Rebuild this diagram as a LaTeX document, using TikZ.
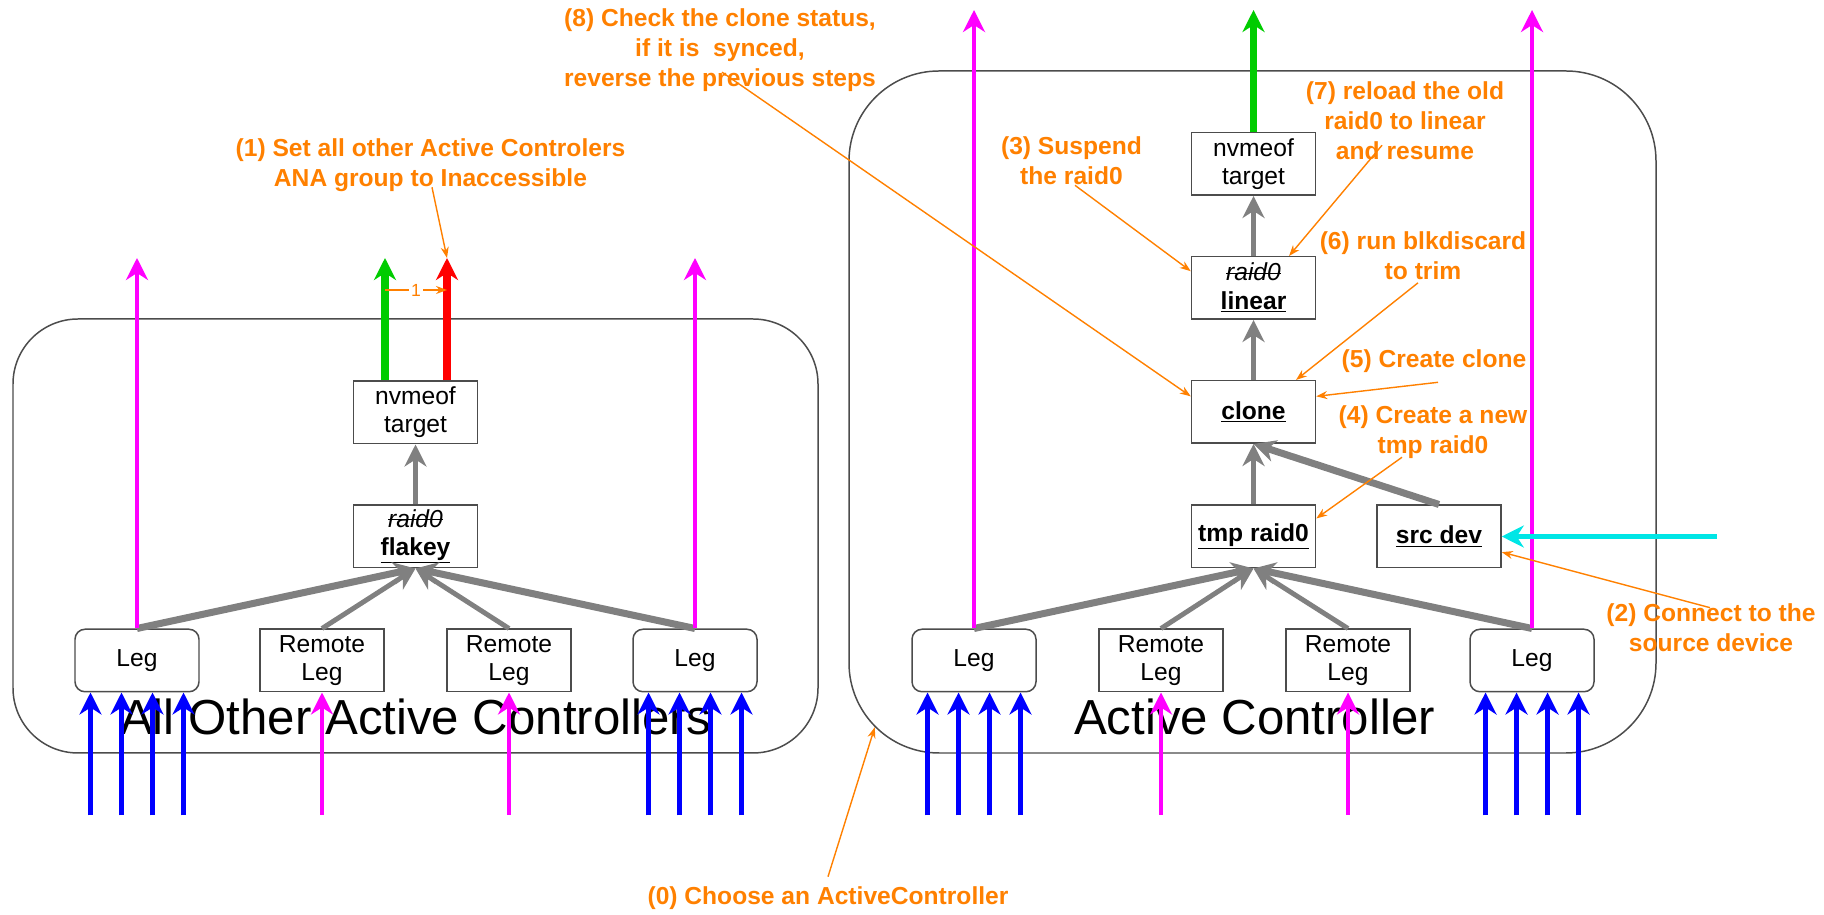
\documentclass[tikz,border=0pt]{standalone}
\usepackage{fontspec}
\setmainfont{Liberation Sans}
\usepackage{tikz}
\usetikzlibrary{arrows.meta,positioning,calc}
\definecolor{noteorange}{RGB}{255,128,0}
\definecolor{pathmagenta}{RGB}{255,0,255}
\definecolor{pathblue}{RGB}{0,0,255}
\definecolor{pathgreen}{RGB}{0,204,0}
\definecolor{pathred}{RGB}{255,0,0}
\definecolor{pathcyan}{RGB}{0,230,230}
\definecolor{stackgray}{RGB}{128,128,128}
\newcommand{\boxfont}{\fontsize{14}{16}\selectfont}
\newcommand{\notefont}{\fontsize{14}{17}\selectfont\bfseries}
\newcommand{\titlefont}{\fontsize{28}{34}\selectfont}
\newsavebox{\struckbox}
\newcommand{\struck}[1]{\sbox\struckbox{#1}\rlap{\rule[0.27em]{\wd\struckbox}{0.06em}}\usebox\struckbox}

\begin{document}
\begin{tikzpicture}[
    panel/.style={rectangle, draw=black!70, line width=0.85pt},
    leg/.style={rectangle, draw=black!70, fill=white, line width=0.85pt, rounded corners=0.2cm, minimum width=2.48cm, minimum height=1.25cm, inner sep=0pt, align=center, font=\boxfont},
    dev/.style={leg, sharp corners},
    note/.style={text=noteorange, align=center, font=\notefont, inner sep=0pt},
    pointer/.style={->, >={Stealth[length=0.22cm,width=0.16cm]}, draw=noteorange, line width=0.8pt},
    flow/.style={->, >={Stealth[length=0.44cm,width=0.44cm,inset=0.14cm]}, line width=2.8pt},
    stack/.style={flow, stackgray},
    bulk/.style={stack, line width=4pt}]

  \useasboundingbox (0,0) rectangle (36.48,18.30);

  % controller panels
  \node[panel, rounded corners=1.3cm, minimum width=16.10cm, minimum height=8.68cm] (others) at (8.31,7.58) {};
  \node[panel, rounded corners=1.8cm, minimum width=16.14cm, minimum height=13.64cm] (active) at (25.05,10.06) {};
  \node[font=\titlefont, anchor=base] (othersname) at (8.31,3.6) {All Other Active Controllers};
  \node[font=\titlefont, anchor=base] (activename) at (25.09,3.6) {Active Controller};

  % other controllers
  \node[leg] (legA) at (2.74,5.09) {Leg};
  \node[dev] (remA) at (6.44,5.09) {Remote\\Leg};
  \node[dev] (remB) at (10.18,5.09) {Remote\\Leg};
  \node[leg] (legB) at (13.90,5.09) {Leg};
  \node[dev] (flakey) at (8.31,7.57) {\textit{\struck{raid0}}\\\textbf{\underline{flakey}}};
  \node[dev] (nvmeL) at (8.31,10.05) {nvmeof\\target};

  % active controller
  \node[leg] (legC) at (19.48,5.09) {Leg};
  \node[dev] (remC) at (23.22,5.09) {Remote\\Leg};
  \node[dev] (remD) at (26.96,5.09) {Remote\\Leg};
  \node[leg] (legD) at (30.64,5.09) {Leg};
  \node[dev] (tmpraid) at (25.07,7.57) {\textbf{\underline{tmp raid0}}};
  \node[dev] (srcdev) at (28.78,7.57) {\textbf{\underline{src dev}}};
  \node[dev] (clone) at (25.07,10.06) {\textbf{\underline{clone}}};
  \node[dev] (linear) at (25.07,12.54) {\textit{\struck{raid0}}\\\textbf{\underline{linear}}};
  \node[dev] (nvmeR) at (25.07,15.02) {nvmeof\\target};

  \coordinate (topL) at (0,13.14);
  \coordinate (topR) at (0,18.10);
  \coordinate (floor) at (0,2.0);
  \coordinate (greentipL) at (7.70,13.14);
  \coordinate (redtipL) at (8.94,13.14);
  \coordinate (markL) at (0,12.5);
  \coordinate (srcfeed) at (34.34,7.57);

  % incoming paths
  \foreach \leg in {legA,legB,legC,legD}
    \foreach \dx in {-0.93,-0.31,0.31,0.93}
      \draw[flow, pathblue] ($(\leg.south)+(\dx,-2.46)$) -- ($(\leg.south)+(\dx,0)$);
  \foreach \rem in {remA,remB,remC,remD}
    \draw[flow, pathmagenta] (\rem.south |- floor) -- (\rem.south);

  % device stacks
  \foreach \src in {remA,remB} \draw[stack] (\src.north) -- (flakey.south);
  \foreach \src in {legA,legB} \draw[bulk] (\src.north) -- (flakey.south);
  \draw[stack] (flakey) -- (nvmeL);
  \foreach \src in {remC,remD} \draw[stack] (\src.north) -- (tmpraid.south);
  \foreach \src in {legC,legD} \draw[bulk] (\src.north) -- (tmpraid.south);
  \draw[stack] (tmpraid) -- (clone);
  \draw[bulk] (srcdev.north) -- (clone.south);
  \draw[stack] (clone) -- (linear);
  \draw[stack] (linear) -- (nvmeR);

  % outgoing paths
  \draw[flow, pathmagenta] (legA.north) -- (legA.north |- topL);
  \draw[flow, pathmagenta] (legB.north) -- (legB.north |- topL);
  \draw[flow, pathgreen, line width=4pt] (nvmeL.north -| greentipL) -- (greentipL);
  \draw[flow, pathred, line width=4pt] (nvmeL.north -| redtipL) -- (redtipL);
  \draw[pointer] (greentipL |- markL) -- node[fill=white, inner sep=1pt, text=noteorange, font=\fontsize{10}{12}\selectfont] {1} (redtipL |- markL);
  \draw[flow, pathmagenta] (legC.north) -- (legC.north |- topR);
  \draw[flow, pathmagenta] (legD.north) -- (legD.north |- topR);
  \draw[flow, pathgreen, line width=4pt] (nvmeR.north) -- (nvmeR.north |- topR);
  \draw[flow, pathcyan, line width=3.4pt] (srcfeed) -- (srcdev.east);

  % steps
  \node[note] (stepA) at (8.61,14.99) {(1) Set all other Active Controlers\\ANA group to Inaccessible};
  \node[note] (stepB) at (34.22,5.74) {(2) Connect to the\\source device};
  \node[note] (stepC) at (21.43,15.08) {(3) Suspend\\the raid0};
  \node[note] (stepD) at (28.66,9.65) {(4) Create a new\\tmp raid0};
  \node[note] (stepE) at (28.68,11.07) {(5) Create clone};
  \node[note] (stepF) at (28.46,13.19) {(6) run blkdiscard\\to trim};
  \node[note] (stepG) at (28.10,15.88) {(7) reload the old\\raid0 to linear\\and resume};
  \node[note] (stepH) at (14.40,17.29) {(8) Check the clone status,\\if it is\ \ synced,\\reverse the previous steps};
  \node[note] (stepZ) at (16.56,0.33) {(0) Choose an ActiveController};

  \draw[pointer] ($(stepA.south)+(0.03,0.1)$) -- (redtipL);
  \draw[pointer] ($(stepB.north)+(-0.02,-0.08)$) -- (srcdev.-14);
  \draw[pointer] ($(stepC.south)+(0.07,0)$) -- (linear.165);
  \draw[pointer] ($(stepD.south)+(-0.62,0.04)$) -- (tmpraid.16);
  \draw[pointer] ($(stepE.south)+(0.08,-0.18)$) -- (clone.14);
  \draw[pointer] ($(stepF.south)+(-0.1,-0.06)$) -- (clone.37);
  \draw[pointer] ($(stepG.south)+(-0.46,0.3)$) -- (linear.42);
  \draw[pointer] ($(stepH.south)+(0.04,0.4)$) -- (clone.166);
  \draw[pointer] ($(stepZ.north)+(0,0.2)$) -- ($(active.south west)+(0.53,0.53)$);
\end{tikzpicture}
\end{document}
